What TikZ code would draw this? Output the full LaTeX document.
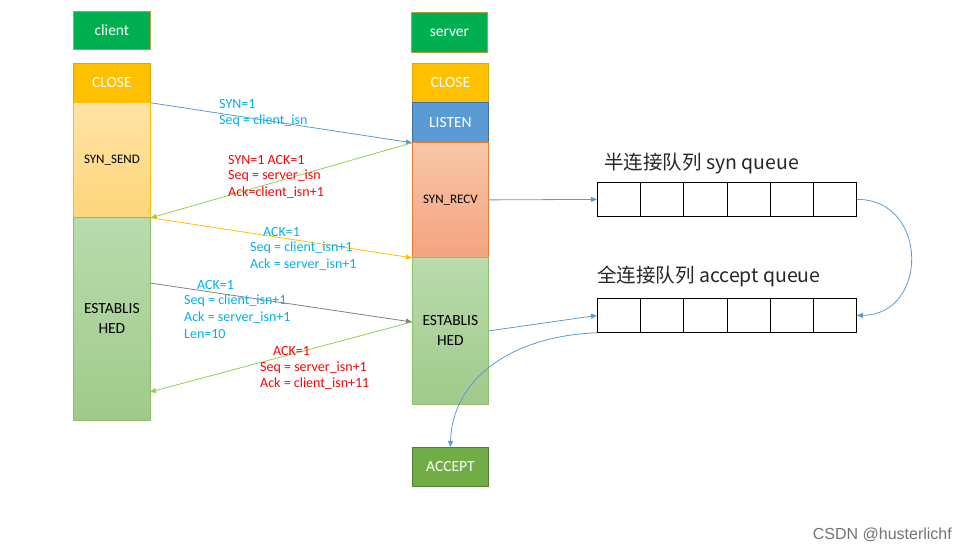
\documentclass[tikz,border=0pt]{standalone}
\usepackage{fontspec}
\setmainfont{Carlito}
\newfontfamily\cjk{Noto Sans CJK SC}
\newfontfamily\arialf{Liberation Sans}
\usetikzlibrary{arrows.meta}
\definecolor{hgreen}{HTML}{00B050}
\definecolor{hgreenD}{HTML}{B89B3A}
\definecolor{cls}{HTML}{FFC000}
\definecolor{clsD}{HTML}{E0A800}
\definecolor{lst}{HTML}{5B9BD5}
\definecolor{lstD}{HTML}{41719C}
\definecolor{rcvT}{HTML}{F8C6A8}
\definecolor{rcvB}{HTML}{F4A480}
\definecolor{rcvD}{HTML}{ED7D31}
\definecolor{sndT}{HTML}{FFE3A6}
\definecolor{sndB}{HTML}{FFD57A}
\definecolor{sndD}{HTML}{FFC000}
\definecolor{estT}{HTML}{BADBAD}
\definecolor{estB}{HTML}{A0CA8A}
\definecolor{estD}{HTML}{8CC06A}
\definecolor{acc}{HTML}{70AD47}
\definecolor{accD}{HTML}{507E32}
\definecolor{lblue}{HTML}{00B0F0}
\definecolor{lred}{HTML}{FF0000}
\definecolor{agreen}{HTML}{92D050}
\definecolor{agray}{HTML}{808080}
\begin{document}
\begin{tikzpicture}[x=1pt,y=-1pt,
  box/.style={rectangle, inner sep=0pt, anchor=north west, align=center, line width=0.8pt},
  big/.style={font=\fontsize{15.5}{20}\selectfont},
  small/.style={font=\fontsize{13}{15}\selectfont},
  lbl/.style={anchor=west, inner sep=0pt, font=\fontsize{14}{16}\selectfont},
  qcell/.style={rectangle, draw=black, line width=0.8pt, minimum width=43.17pt, minimum height=34pt, inner sep=0pt, anchor=north west},
  qlbl/.style={anchor=west, inner sep=0pt, font=\cjk\fontsize{19.5}{21}\selectfont, text=black!85},
  tip/.style={-{Triangle[length=6pt,width=5pt]}, line width=0.8pt}
]
\useasboundingbox (0,0) rectangle (961,551);
% client column
\node[box, big, fill=hgreen, draw=hgreenD, text=white, minimum width=77pt, minimum height=38pt] (client) at (73,11) {client};
\node[box, big, fill=cls, draw=clsD, text=white, minimum width=77pt, minimum height=39pt] (cclose) at (73,63) {CLOSE};
\node[box, small, top color=sndT, bottom color=sndB, draw=sndD, minimum width=77pt, minimum height=115pt] (synsend) at (73,102) {SYN\_SEND};
\node[box, big, top color=estT, bottom color=estB, draw=estD, minimum width=77pt, minimum height=203pt] (cest) at (73,217) {ESTABLIS\\HED};
% server column
\node[box, big, fill=hgreen, draw=hgreenD, text=white, minimum width=76pt, minimum height=40pt] (server) at (411,12) {server};
\node[box, big, fill=cls, draw=clsD, text=white, minimum width=76pt, minimum height=39pt] (sclose) at (412,63) {CLOSE};
\node[box, big, fill=lst, draw=lstD, text=white, minimum width=76pt, minimum height=40pt] (listen) at (412,102) {LISTEN};
\node[box, small, top color=rcvT, bottom color=rcvB, draw=rcvD, minimum width=76pt, minimum height=115pt] (synrecv) at (412,142) {SYN\_RECV};
\node[box, big, top color=estT, bottom color=estB, draw=estD, minimum width=76pt, minimum height=147pt] (sest) at (412,257) {ESTABLIS\\HED};
\node[box, big, fill=acc, draw=accD, text=white, minimum width=76pt, minimum height=39pt] (accept) at (412,447) {ACCEPT};
% queues
\foreach \i in {1,...,6} {
  \node[qcell] (sq\i) at ({597+(\i-1)*43.17},182) {};
  \node[qcell] (aq\i) at ({597+(\i-1)*43.17},298) {};
}
\node[qlbl] (synql) at (604,164) {半连接队列 syn queue};
\node[qlbl] (accql) at (597,276) {全连接队列 accept queue};
% handshake arrows
\draw[tip, draw=lst] (cclose.south east) -- (listen.south west);
\draw[tip, draw=agreen] (listen.south west) -- (synsend.south east);
\draw[tip, draw=cls] (synsend.south east) -- (synrecv.south west);
\coordinate (c1) at (150,283);
\coordinate (s1) at (412,322);
\coordinate (c2) at (150,392);
\draw[tip, draw=agray] (c1) -- (s1);
\draw[tip, draw=agreen] (s1) -- (c2);
% labels
\node[lbl, text=lblue] (l1a) at (219,104) {SYN=1};
\node[lbl, text=lblue] (l1b) at (219,121) {Seq = client\_isn};
\node[lbl, text=lred] (l2a) at (228,160) {SYN=1 ACK=1};
\node[lbl, text=lred] (l2b) at (228,176) {Seq = server\_isn};
\node[lbl, text=lred] (l2c) at (228,193) {Ack=client\_isn+1};
\node[lbl, text=lblue] (l3a) at (263,232) {ACK=1};
\node[lbl, text=lblue] (l3b) at (250,248) {Seq = client\_isn+1};
\node[lbl, text=lblue] (l3c) at (250,265) {Ack = server\_isn+1};
\node[lbl, text=lblue] (l4a) at (197,285) {ACK=1};
\node[lbl, text=lblue] (l4b) at (184,301) {Seq = client\_isn+1};
\node[lbl, text=lblue] (l4c) at (184,318) {Ack = server\_isn+1};
\node[lbl, text=lblue] (l4d) at (184,334) {Len=10};
\node[lbl, text=lred] (l5a) at (273,351) {ACK=1};
\node[lbl, text=lred] (l5b) at (260,368) {Seq = server\_isn+1};
\node[lbl, text=lred] (l5c) at (260,384) {Ack = client\_isn+11};
% queue arrows
\draw[tip, draw=lst] (synrecv.east) -- (sq1.west);
\draw[tip, draw=lst] (sest.east) -- (aq1.west);
\draw[tip, draw=lst] (sq6.east) .. controls (929,199) and (929,315) .. (aq6.east);
\draw[tip, draw=lst] (aq1.south west) .. controls (510,336) and (452,380) .. (accept.north);
% footer
\node[anchor=east, inner sep=0pt, font=\arialf\fontsize{16}{18}\selectfont, text=black!55] (csdn) at (952,535) {CSDN @husterlichf};
\end{tikzpicture}
\end{document}
